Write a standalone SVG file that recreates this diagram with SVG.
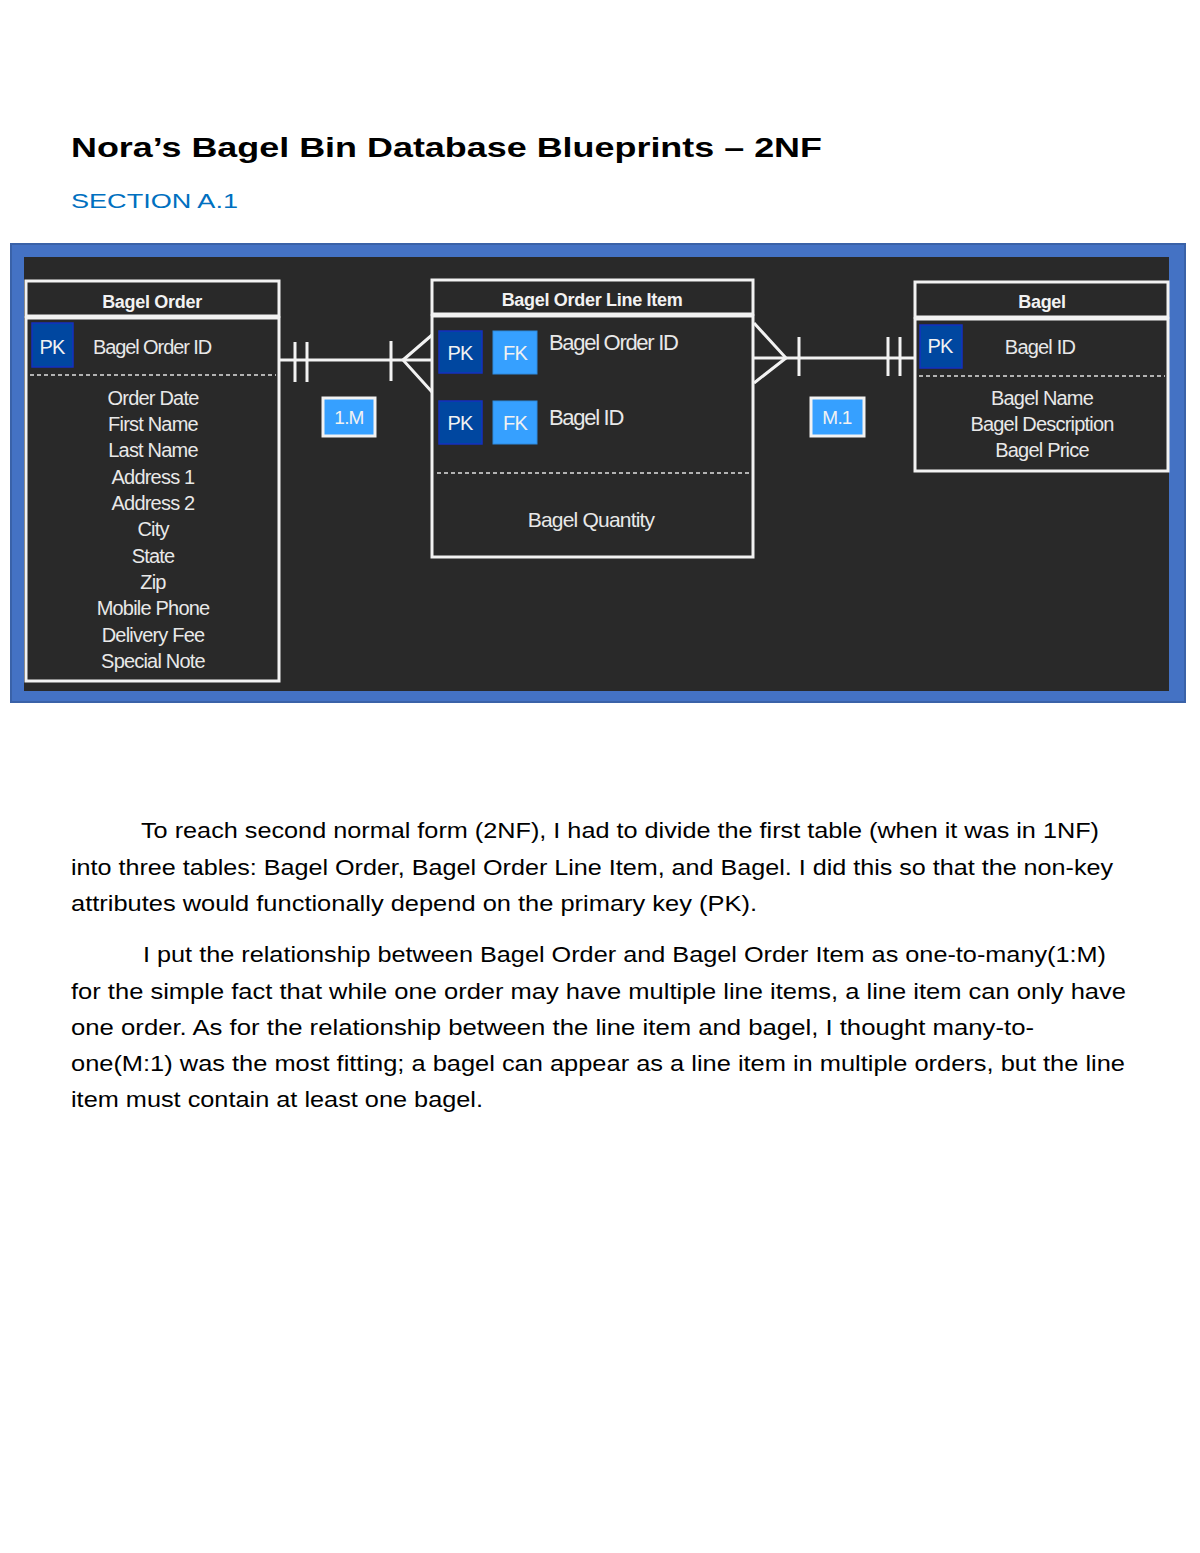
<svg xmlns="http://www.w3.org/2000/svg" width="1200" height="1553" viewBox="0 0 1200 1553">
<style>
.title{font-family:"Liberation Sans",Arial,sans-serif;font-weight:bold;font-size:28px;fill:#000}
.sec{font-family:"Liberation Sans",Arial,sans-serif;font-size:21px;fill:#0070C0}
.box{fill:none;stroke:#F2F2F2;stroke-width:3}
.hdr{font-family:"Liberation Sans",Arial,sans-serif;font-weight:bold;font-size:18px;fill:#F2F2F2;text-anchor:middle;letter-spacing:-0.3px}
.att{font-family:"Liberation Sans",Arial,sans-serif;font-size:20px;fill:#E8E8E8;text-anchor:middle;letter-spacing:-0.8px}
.fld{font-family:"Liberation Sans",Arial,sans-serif;font-size:20px;fill:#E8E8E8;letter-spacing:-1.1px}
.fld2{font-family:"Liberation Sans",Arial,sans-serif;font-size:22px;fill:#E8E8E8;letter-spacing:-1.3px}
.pk{fill:#0047A0;stroke:#1530C0;stroke-width:1.5}
.fk{fill:#36A0FF;stroke:#2E8BE0;stroke-width:1}
.key{font-family:"Liberation Sans",Arial,sans-serif;font-size:20px;fill:#F2F2F2;text-anchor:middle;letter-spacing:-0.8px}
.dash{stroke:#E0E0E0;stroke-width:1.5;stroke-dasharray:4 3}
.rel{fill:none;stroke:#F2F2F2;stroke-width:3}
.lbl{fill:#36A0FF;stroke:#F2F2F2;stroke-width:3}
.lbltxt{font-family:"Liberation Sans",Arial,sans-serif;font-size:19px;fill:#F2F2F2;text-anchor:middle;letter-spacing:-0.8px}
.body{font-family:"Liberation Sans",Arial,sans-serif;font-size:22px;fill:#000}
</style>

<text class="title" x="71" y="157" textLength="751" lengthAdjust="spacingAndGlyphs">Nora’s Bagel Bin Database Blueprints – 2NF</text>
<text class="sec" x="71" y="208" textLength="167" lengthAdjust="spacingAndGlyphs">SECTION A.1</text>

<g id="frame">
<rect x="11" y="244" width="1174" height="458" fill="#4472C4" stroke="#3A62A8" stroke-width="2"/>
<rect x="24" y="257" width="1145" height="434" fill="#292929"/>
</g>

<g id="bagel-order">
<rect class="box" x="26" y="281" width="253" height="35"/>
<text class="hdr" x="152" y="308">Bagel Order</text>
<rect class="box" x="26" y="318" width="253" height="363"/>
<rect class="pk" x="32" y="323" width="41" height="44"/>
<text class="key" x="52" y="354">PK</text>
<text class="fld" x="93" y="354">Bagel Order ID</text>
<line class="dash" x1="30" y1="375" x2="276" y2="375"/>
<text class="att" x="153" y="405">Order Date</text>
<text class="att" x="153" y="431">First Name</text>
<text class="att" x="153" y="457">Last Name</text>
<text class="att" x="153" y="484">Address 1</text>
<text class="att" x="153" y="510">Address 2</text>
<text class="att" x="153" y="536">City</text>
<text class="att" x="153" y="563">State</text>
<text class="att" x="153" y="589">Zip</text>
<text class="att" x="153" y="615">Mobile Phone</text>
<text class="att" x="153" y="642">Delivery Fee</text>
<text class="att" x="153" y="668">Special Note</text>
</g>

<g id="line-item">
<rect class="box" x="432" y="280" width="321" height="34"/>
<text class="hdr" x="592" y="306">Bagel Order Line Item</text>
<rect class="box" x="432" y="316" width="321" height="241"/>
<rect class="pk" x="439" y="331" width="43" height="42"/>
<text class="key" x="460" y="360">PK</text>
<rect class="fk" x="493" y="331" width="44" height="43"/>
<text class="key" x="515" y="360">FK</text>
<text class="fld2" x="549" y="350">Bagel Order ID</text>
<rect class="pk" x="439" y="401" width="43" height="43"/>
<text class="key" x="460" y="430">PK</text>
<rect class="fk" x="493" y="401" width="44" height="43"/>
<text class="key" x="515" y="430">FK</text>
<text class="fld2" x="549" y="425">Bagel ID</text>
<line class="dash" x1="437" y1="473" x2="751" y2="473"/>
<text class="att" x="591" y="527" style="font-size:21px">Bagel Quantity</text>
</g>

<g id="bagel">
<rect class="box" x="915" y="282" width="253" height="35"/>
<text class="hdr" x="1042" y="308">Bagel</text>
<rect class="box" x="915" y="319" width="253" height="152"/>
<rect class="pk" x="920" y="325" width="42" height="43"/>
<text class="key" x="940" y="353">PK</text>
<text class="att" x="1040" y="354">Bagel ID</text>
<line class="dash" x1="919" y1="376" x2="1165" y2="376"/>
<text class="att" x="1042" y="405">Bagel Name</text>
<text class="att" x="1042" y="431">Bagel Description</text>
<text class="att" x="1042" y="457">Bagel Price</text>
</g>

<g id="connectors">
<line class="rel" x1="279" y1="360" x2="432" y2="360"/>
<line class="rel" x1="295" y1="342" x2="295" y2="382"/>
<line class="rel" x1="307" y1="342" x2="307" y2="382"/>
<line class="rel" x1="391" y1="341" x2="391" y2="381"/>
<polyline class="rel" points="432,335 403,360 432,392"/>
<line class="rel" x1="754" y1="358" x2="915" y2="358"/>
<polyline class="rel" points="754,323 786,358 754,383"/>
<line class="rel" x1="799" y1="337" x2="799" y2="376"/>
<line class="rel" x1="888" y1="337" x2="888" y2="376"/>
<line class="rel" x1="900" y1="337" x2="900" y2="376"/>
</g>

<g id="label-1M">
<rect class="lbl" x="323" y="398" width="52" height="38"/>
<text class="lbltxt" x="349" y="424">1.M</text>
</g>
<g id="label-M1">
<rect class="lbl" x="811" y="398" width="53" height="38"/>
<text class="lbltxt" x="837" y="424">M.1</text>
</g>

<g id="paragraphs">
<text class="body" x="141" y="838" textLength="958" lengthAdjust="spacingAndGlyphs">To reach second normal form (2NF), I had to divide the first table (when it was in 1NF)</text>
<text class="body" x="71" y="875" textLength="1042" lengthAdjust="spacingAndGlyphs">into three tables: Bagel Order, Bagel Order Line Item, and Bagel. I did this so that the non-key</text>
<text class="body" x="71" y="911" textLength="686" lengthAdjust="spacingAndGlyphs">attributes would functionally depend on the primary key (PK).</text>
<text class="body" x="143" y="962" textLength="963" lengthAdjust="spacingAndGlyphs">I put the relationship between Bagel Order and Bagel Order Item as one-to-many(1:M)</text>
<text class="body" x="71" y="999" textLength="1055" lengthAdjust="spacingAndGlyphs">for the simple fact that while one order may have multiple line items, a line item can only have</text>
<text class="body" x="71" y="1035" textLength="963" lengthAdjust="spacingAndGlyphs">one order. As for the relationship between the line item and bagel, I thought many-to-</text>
<text class="body" x="71" y="1071" textLength="1054" lengthAdjust="spacingAndGlyphs">one(M:1) was the most fitting; a bagel can appear as a line item in multiple orders, but the line</text>
<text class="body" x="71" y="1107" textLength="412" lengthAdjust="spacingAndGlyphs">item must contain at least one bagel.</text>
</g>
</svg>
